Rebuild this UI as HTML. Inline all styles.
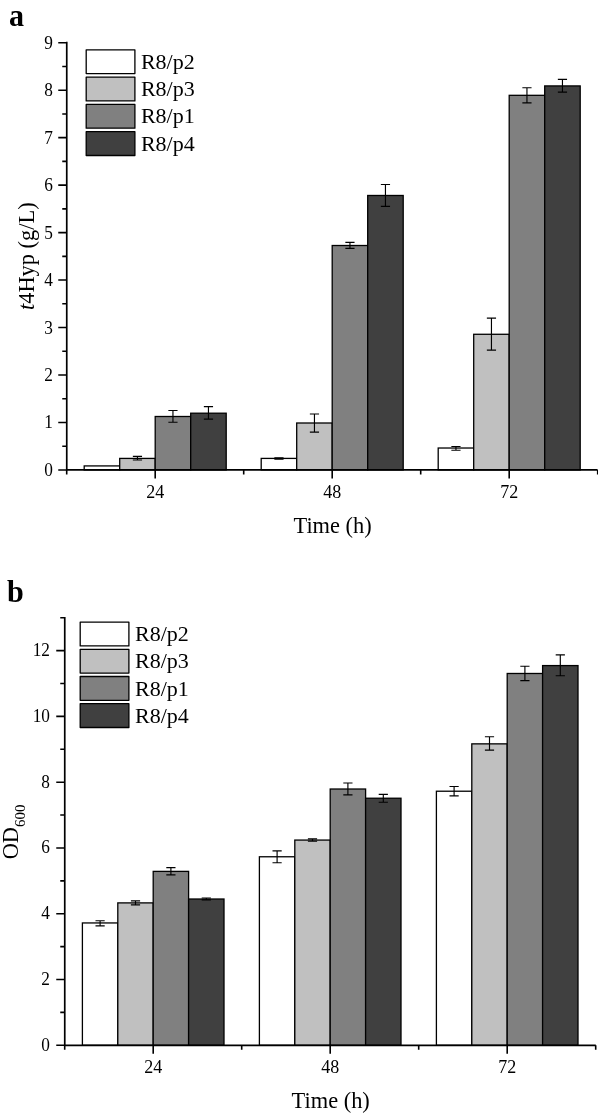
<!DOCTYPE html>
<html><head><meta charset="utf-8"><title>Figure</title>
<style>
html,body{margin:0;padding:0;background:#fff;}
body{width:598px;height:1115px;overflow:hidden;}
svg{display:block;font-family:"Liberation Serif",serif;fill:#000;will-change:transform;}
</style></head><body>
<svg width="598" height="1115" viewBox="0 0 598 1115">
<rect width="598" height="1115" fill="#fff"/>
<rect x="84.20" y="465.92" width="35.50" height="4.03" fill="#ffffff" stroke="#000" stroke-width="1.3"/>
<rect x="119.70" y="458.41" width="35.50" height="11.54" fill="#c0c0c0" stroke="#000" stroke-width="1.3"/>
<rect x="155.20" y="416.50" width="35.50" height="53.45" fill="#808080" stroke="#000" stroke-width="1.3"/>
<rect x="190.70" y="413.20" width="35.50" height="56.75" fill="#404040" stroke="#000" stroke-width="1.3"/>
<rect x="261.20" y="458.41" width="35.50" height="11.54" fill="#ffffff" stroke="#000" stroke-width="1.3"/>
<rect x="296.70" y="423.00" width="35.50" height="46.95" fill="#c0c0c0" stroke="#000" stroke-width="1.3"/>
<rect x="332.20" y="245.51" width="35.50" height="224.44" fill="#808080" stroke="#000" stroke-width="1.3"/>
<rect x="367.70" y="195.48" width="35.50" height="274.47" fill="#404040" stroke="#000" stroke-width="1.3"/>
<rect x="438.20" y="448.02" width="35.50" height="21.93" fill="#ffffff" stroke="#000" stroke-width="1.3"/>
<rect x="473.70" y="334.28" width="35.50" height="135.67" fill="#c0c0c0" stroke="#000" stroke-width="1.3"/>
<rect x="509.20" y="95.32" width="35.50" height="374.63" fill="#808080" stroke="#000" stroke-width="1.3"/>
<rect x="544.70" y="85.92" width="35.50" height="384.03" fill="#404040" stroke="#000" stroke-width="1.3"/>
<path d="M137.45 456.30V459.98M132.85 456.30H142.05M132.85 459.98H142.05" stroke="#000" stroke-width="1.15" fill="none"/>
<path d="M172.95 410.52V422.20M168.35 410.52H177.55M168.35 422.20H177.55" stroke="#000" stroke-width="1.15" fill="none"/>
<path d="M208.45 406.58V419.11M203.85 406.58H213.05M203.85 419.11H213.05" stroke="#000" stroke-width="1.15" fill="none"/>
<path d="M278.95 457.70V459.22M274.35 457.70H283.55M274.35 459.22H283.55" stroke="#000" stroke-width="1.15" fill="none"/>
<path d="M314.45 413.98V432.12M309.85 413.98H319.05M309.85 432.12H319.05" stroke="#000" stroke-width="1.15" fill="none"/>
<path d="M349.95 242.43V248.31M345.35 242.43H354.55M345.35 248.31H354.55" stroke="#000" stroke-width="1.15" fill="none"/>
<path d="M385.45 184.47V206.30M380.85 184.47H390.05M380.85 206.30H390.05" stroke="#000" stroke-width="1.15" fill="none"/>
<path d="M455.95 446.50V450.20M451.35 446.50H460.55M451.35 450.20H460.55" stroke="#000" stroke-width="1.15" fill="none"/>
<path d="M491.45 318.19V350.18M486.85 318.19H496.05M486.85 350.18H496.05" stroke="#000" stroke-width="1.15" fill="none"/>
<path d="M526.95 87.72V102.86M522.35 87.72H531.55M522.35 102.86H531.55" stroke="#000" stroke-width="1.15" fill="none"/>
<path d="M562.45 79.32V92.09M557.85 79.32H567.05M557.85 92.09H567.05" stroke="#000" stroke-width="1.15" fill="none"/>
<path d="M66.75 41.87V469.95H597.60" stroke="#000" stroke-width="1.7" fill="none" stroke-linejoin="miter"/>
<text transform="translate(52.8,475.95) scale(0.96,1)" text-anchor="end" font-size="18">0</text>
<text transform="translate(52.8,428.48) scale(0.96,1)" text-anchor="end" font-size="18">1</text>
<text transform="translate(52.8,381.01) scale(0.96,1)" text-anchor="end" font-size="18">2</text>
<text transform="translate(52.8,333.54) scale(0.96,1)" text-anchor="end" font-size="18">3</text>
<text transform="translate(52.8,286.07) scale(0.96,1)" text-anchor="end" font-size="18">4</text>
<text transform="translate(52.8,238.60) scale(0.96,1)" text-anchor="end" font-size="18">5</text>
<text transform="translate(52.8,191.13) scale(0.96,1)" text-anchor="end" font-size="18">6</text>
<text transform="translate(52.8,143.66) scale(0.96,1)" text-anchor="end" font-size="18">7</text>
<text transform="translate(52.8,96.19) scale(0.96,1)" text-anchor="end" font-size="18">8</text>
<text transform="translate(52.8,48.72) scale(0.96,1)" text-anchor="end" font-size="18">9</text>
<path d="M66.75 469.95h-8.5M66.75 446.21h-4.5M66.75 422.48h-8.5M66.75 398.75h-4.5M66.75 375.01h-8.5M66.75 351.27h-4.5M66.75 327.54h-8.5M66.75 303.81h-4.5M66.75 280.07h-8.5M66.75 256.33h-4.5M66.75 232.60h-8.5M66.75 208.87h-4.5M66.75 185.13h-8.5M66.75 161.39h-4.5M66.75 137.66h-8.5M66.75 113.93h-4.5M66.75 90.19h-8.5M66.75 66.45h-4.5M66.75 42.72h-8.5M155.20 469.95v8.5M332.20 469.95v8.5M509.20 469.95v8.5M66.70 469.95v4.5M243.70 469.95v4.5M420.70 469.95v4.5M597.70 469.95v4.5" stroke="#000" stroke-width="1.6" fill="none"/>
<text x="155.20" y="497.95" text-anchor="middle" font-size="18">24</text>
<text x="332.20" y="497.95" text-anchor="middle" font-size="18">48</text>
<text x="509.20" y="497.95" text-anchor="middle" font-size="18">72</text>
<rect x="86.2" y="49.80" width="48.7" height="23.8" fill="#ffffff" stroke="#000" stroke-width="1.3" stroke-linejoin="round"/>
<text x="140.9" y="68.80" font-size="22">R8/p2</text>
<rect x="86.2" y="77.10" width="48.7" height="23.8" fill="#c0c0c0" stroke="#000" stroke-width="1.3" stroke-linejoin="round"/>
<text x="140.9" y="96.10" font-size="22">R8/p3</text>
<rect x="86.2" y="104.40" width="48.7" height="23.8" fill="#808080" stroke="#000" stroke-width="1.3" stroke-linejoin="round"/>
<text x="140.9" y="123.40" font-size="22">R8/p1</text>
<rect x="86.2" y="131.70" width="48.7" height="23.8" fill="#404040" stroke="#000" stroke-width="1.3" stroke-linejoin="round"/>
<text x="140.9" y="150.70" font-size="22">R8/p4</text>
<text transform="translate(9.1,25.75) scale(0.95,1)" font-size="31.7" font-weight="bold">a</text>
<text transform="translate(34,256.2) rotate(-90)" text-anchor="middle" font-size="22.4"><tspan font-style="italic">t</tspan>4Hyp (g/L)</text>
<text x="332.6" y="532.8" text-anchor="middle" font-size="22.4">Time (h)</text>
<rect x="82.40" y="922.95" width="35.40" height="122.35" fill="#ffffff" stroke="#000" stroke-width="1.3"/>
<rect x="117.80" y="902.89" width="35.40" height="142.41" fill="#c0c0c0" stroke="#000" stroke-width="1.3"/>
<rect x="153.20" y="871.38" width="35.40" height="173.92" fill="#808080" stroke="#000" stroke-width="1.3"/>
<rect x="188.60" y="899.01" width="35.40" height="146.29" fill="#404040" stroke="#000" stroke-width="1.3"/>
<rect x="259.40" y="856.77" width="35.40" height="188.53" fill="#ffffff" stroke="#000" stroke-width="1.3"/>
<rect x="294.80" y="840.07" width="35.40" height="205.23" fill="#c0c0c0" stroke="#000" stroke-width="1.3"/>
<rect x="330.20" y="789.02" width="35.40" height="256.28" fill="#808080" stroke="#000" stroke-width="1.3"/>
<rect x="365.60" y="798.23" width="35.40" height="247.07" fill="#404040" stroke="#000" stroke-width="1.3"/>
<rect x="436.40" y="791.22" width="35.40" height="254.08" fill="#ffffff" stroke="#000" stroke-width="1.3"/>
<rect x="471.80" y="743.86" width="35.40" height="301.44" fill="#c0c0c0" stroke="#000" stroke-width="1.3"/>
<rect x="507.20" y="673.48" width="35.40" height="371.82" fill="#808080" stroke="#000" stroke-width="1.3"/>
<rect x="542.60" y="665.58" width="35.40" height="379.72" fill="#404040" stroke="#000" stroke-width="1.3"/>
<path d="M100.10 920.78V925.91M95.50 920.78H104.70M95.50 925.91H104.70" stroke="#000" stroke-width="1.15" fill="none"/>
<path d="M135.50 900.91V904.86M130.90 900.91H140.10M130.90 904.86H140.10" stroke="#000" stroke-width="1.15" fill="none"/>
<path d="M170.90 867.69V874.93M166.30 867.69H175.50M166.30 874.93H175.50" stroke="#000" stroke-width="1.15" fill="none"/>
<path d="M206.30 897.95V899.93M201.70 897.95H210.90M201.70 899.93H210.90" stroke="#000" stroke-width="1.15" fill="none"/>
<path d="M277.10 850.92V862.76M272.50 850.92H281.70M272.50 862.76H281.70" stroke="#000" stroke-width="1.15" fill="none"/>
<path d="M312.50 838.92V841.22M307.90 838.92H317.10M307.90 841.22H317.10" stroke="#000" stroke-width="1.15" fill="none"/>
<path d="M347.90 783.00V794.94M343.30 783.00H352.50M343.30 794.94H352.50" stroke="#000" stroke-width="1.15" fill="none"/>
<path d="M383.30 794.35V802.24M378.70 794.35H387.90M378.70 802.24H387.90" stroke="#000" stroke-width="1.15" fill="none"/>
<path d="M454.10 786.46V795.83M449.50 786.46H458.70M449.50 795.83H458.70" stroke="#000" stroke-width="1.15" fill="none"/>
<path d="M489.50 736.79V750.11M484.90 736.79H494.10M484.90 750.11H494.10" stroke="#000" stroke-width="1.15" fill="none"/>
<path d="M524.90 666.24V680.55M520.30 666.24H529.50M520.30 680.55H529.50" stroke="#000" stroke-width="1.15" fill="none"/>
<path d="M560.30 654.90V675.78M555.70 654.90H564.90M555.70 675.78H564.90" stroke="#000" stroke-width="1.15" fill="none"/>
<path d="M64.75 616.88V1045.30H595.80" stroke="#000" stroke-width="1.7" fill="none" stroke-linejoin="miter"/>
<text transform="translate(50.0,1050.70) scale(0.96,1)" text-anchor="end" font-size="18">0</text>
<text transform="translate(50.0,984.92) scale(0.96,1)" text-anchor="end" font-size="18">2</text>
<text transform="translate(50.0,919.14) scale(0.96,1)" text-anchor="end" font-size="18">4</text>
<text transform="translate(50.0,853.36) scale(0.96,1)" text-anchor="end" font-size="18">6</text>
<text transform="translate(50.0,787.58) scale(0.96,1)" text-anchor="end" font-size="18">8</text>
<text transform="translate(50.0,721.80) scale(0.96,1)" text-anchor="end" font-size="18">10</text>
<text transform="translate(50.0,656.02) scale(0.96,1)" text-anchor="end" font-size="18">12</text>
<path d="M64.75 1045.30h-8.5M64.75 1012.41h-4.5M64.75 979.52h-8.5M64.75 946.63h-4.5M64.75 913.74h-8.5M64.75 880.85h-4.5M64.75 847.96h-8.5M64.75 815.07h-4.5M64.75 782.18h-8.5M64.75 749.29h-4.5M64.75 716.40h-8.5M64.75 683.51h-4.5M64.75 650.62h-8.5M64.75 617.73h-4.5M153.20 1045.30v8.5M330.20 1045.30v8.5M507.20 1045.30v8.5M64.70 1045.30v4.5M241.70 1045.30v4.5M418.70 1045.30v4.5M595.70 1045.30v4.5" stroke="#000" stroke-width="1.6" fill="none"/>
<text x="153.20" y="1073.30" text-anchor="middle" font-size="18">24</text>
<text x="330.20" y="1073.30" text-anchor="middle" font-size="18">48</text>
<text x="507.20" y="1073.30" text-anchor="middle" font-size="18">72</text>
<rect x="80.2" y="622.10" width="48.7" height="23.8" fill="#ffffff" stroke="#000" stroke-width="1.3" stroke-linejoin="round"/>
<text x="135" y="641.10" font-size="22">R8/p2</text>
<rect x="80.2" y="649.30" width="48.7" height="23.8" fill="#c0c0c0" stroke="#000" stroke-width="1.3" stroke-linejoin="round"/>
<text x="135" y="668.30" font-size="22">R8/p3</text>
<rect x="80.2" y="676.50" width="48.7" height="23.8" fill="#808080" stroke="#000" stroke-width="1.3" stroke-linejoin="round"/>
<text x="135" y="695.50" font-size="22">R8/p1</text>
<rect x="80.2" y="703.70" width="48.7" height="23.8" fill="#404040" stroke="#000" stroke-width="1.3" stroke-linejoin="round"/>
<text x="135" y="722.70" font-size="22">R8/p4</text>
<text transform="translate(7.0,602.2) scale(0.95,1)" font-size="31.8" font-weight="bold">b</text>
<text transform="translate(18.2,831.9) rotate(-90)" text-anchor="middle" font-size="22.4">OD<tspan font-size="15" dy="6.5">600</tspan></text>
<text x="330.7" y="1108" text-anchor="middle" font-size="22.4">Time (h)</text>
</svg>
</body></html>
